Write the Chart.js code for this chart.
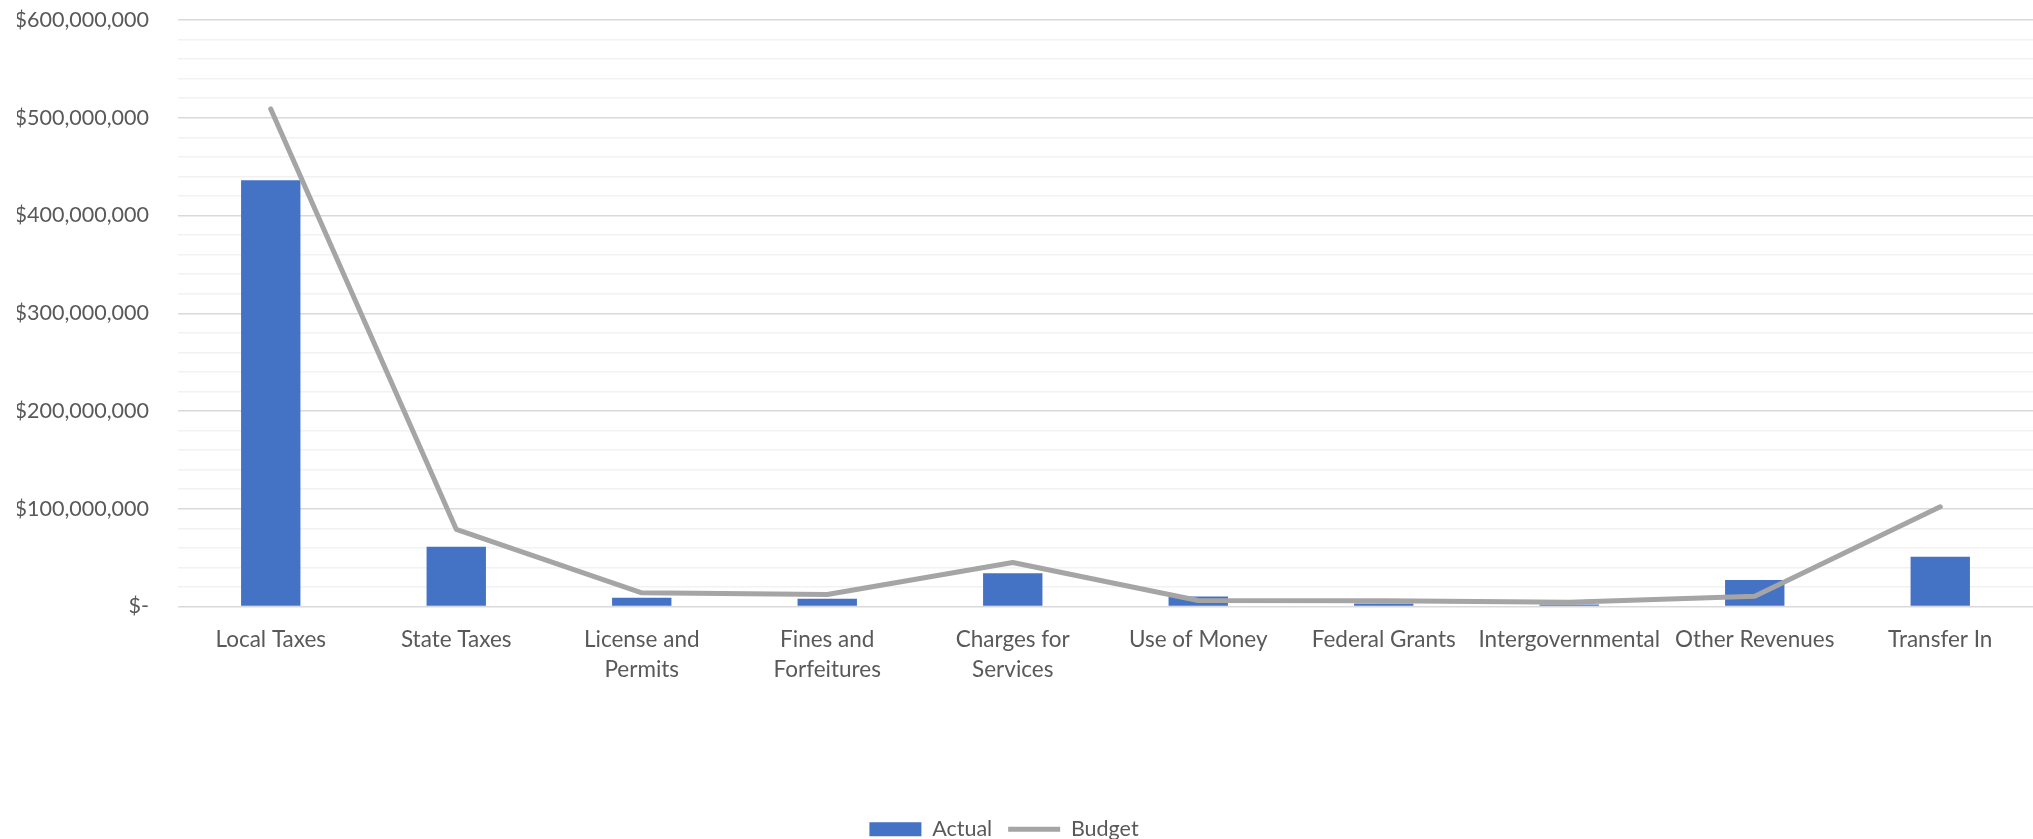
<!DOCTYPE html>
<html>
<head>
<meta charset="utf-8">
<script src="https://cdn.jsdelivr.net/npm/chart.js@4.4.1/dist/chart.umd.min.js"></script>
<style>
    html, body { margin: 0; padding: 0; background: #ffffff; }
    #wrap { width: 2033px; height: 839px; position: relative; }
</style>
</head>
<body>
<div id="wrap"><canvas id="revenueChart"></canvas></div>
<script>
// Revenue categories and values
const categories = [
    'Local Taxes',
    'State Taxes',
    ['License and', 'Permits'],
    ['Fines and', 'Forfeitures'],
    ['Charges for', 'Services'],
    'Use of Money',
    'Federal Grants',
    'Intergovernmental',
    'Other Revenues',
    'Transfer In'
];
const actualValues = [436000000, 61000000, 8900000, 7900000, 34000000, 10200000, 3000000, 2000000, 27000000, 51000000];
const budgetValues = [509000000, 79000000, 14000000, 12300000, 45000000, 6100000, 5800000, 4400000, 10500000, 102000000];
const yTickMax = 600000000;
const yMinorStep = 20000000;
const yMajorStep = 100000000;

const FONT = 'Lato, "Open Sans", sans-serif';
const TEXT_COLOR = '#595959';

// Helper: accounting style label
function formatDollars(value) {
    if (value === 0) return '$-';
    return '$' + value.toLocaleString('en-US');
}

// Nudge the legend a bit to the left, like the original
const legendShift = {
    id: 'legendShift',
    afterLayout(chart) {
        if (chart.legend) {
            chart.legend.left -= 21;
            chart.legend.right -= 21;
        }
    }
};

const ctx = document.getElementById('revenueChart').getContext('2d');
const defaultLabels = Chart.defaults.plugins.legend.labels.generateLabels;

new Chart(ctx, {
    data: {
        labels: categories,
        datasets: [
            {
                type: 'bar',
                label: 'Actual',
                data: actualValues,
                backgroundColor: '#4472C4',
                borderWidth: 0,
                barPercentage: 0.32,
                categoryPercentage: 1,
                order: 2
            },
            {
                type: 'line',
                label: 'Budget',
                data: budgetValues,
                borderColor: '#A5A5A5',
                backgroundColor: '#A5A5A5',
                borderWidth: 5,
                borderCapStyle: 'round',
                borderJoinStyle: 'round',
                pointRadius: 0,
                tension: 0,
                fill: false,
                order: 1
            }
        ]
    },
    plugins: [legendShift],
    options: {
        responsive: true,
        maintainAspectRatio: false,
        animation: false,
        layout: { padding: { top: 20, left: 17, right: 0, bottom: -11 } },
        plugins: {
            tooltip: { enabled: false },
            legend: {
                position: 'bottom',
                labels: {
                    usePointStyle: true,
                    pointStyleWidth: 52,
                    boxHeight: 14,
                    padding: 16,
                    color: TEXT_COLOR,
                    font: { family: FONT, size: 21.5 },
                    sort: (a, b) => a.datasetIndex - b.datasetIndex,
                    generateLabels: chart => defaultLabels(chart).map(item => {
                        item.pointStyle = item.datasetIndex === 0 ? 'rect' : 'line';
                        return item;
                    })
                }
            }
        },
        scales: {
            x: {
                grid: { display: false },
                border: { display: false },
                ticks: {
                    color: TEXT_COLOR,
                    font: { family: FONT, size: 22.5, lineHeight: 1.333 },
                    padding: 10,
                    maxRotation: 0,
                    autoSkip: false
                },
                afterFit: scale => { scale.height = 196; }
            },
            y: {
                min: 0,
                max: yTickMax,
                border: { display: false },
                grid: {
                    drawTicks: false,
                    lineWidth: 1.5,
                    color: c => (c.tick && c.tick.value % yMajorStep === 0) ? '#D9D9D9' : '#F2F2F2'
                },
                ticks: {
                    stepSize: yMinorStep,
                    autoSkip: false,
                    padding: 29,
                    color: TEXT_COLOR,
                    font: { family: FONT, size: 21.5 },
                    callback: value => value % yMajorStep === 0 ? formatDollars(value) : ''
                },
                afterFit: scale => {
                    scale.width = 161;
                    scale.paddingTop = 0;
                    scale.paddingBottom = 0;
                }
            }
        }
    }
});
</script>
</body>
</html>
